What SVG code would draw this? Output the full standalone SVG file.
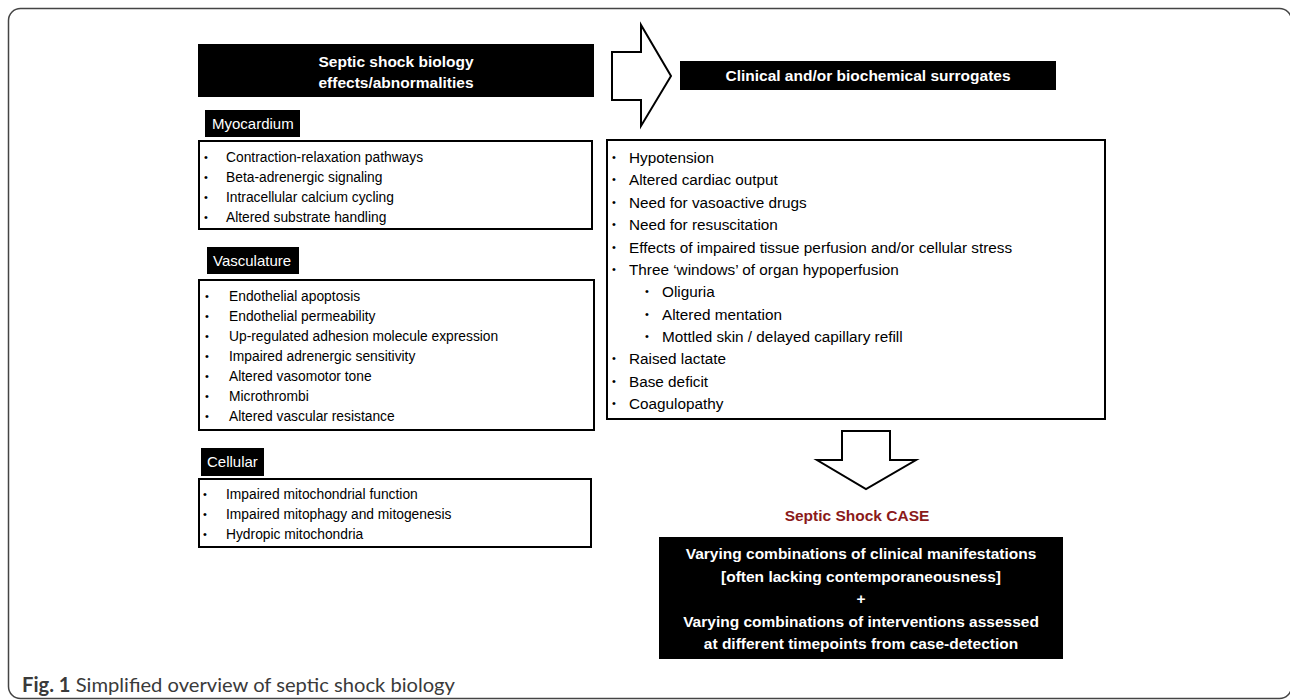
<svg xmlns="http://www.w3.org/2000/svg" width="1290" height="700" viewBox="0 0 1290 700">
<style>
.blk{fill:#000}
.box{fill:#fff;stroke:#000;stroke-width:2}
.arrow{fill:#fff;stroke:#000;stroke-width:2;stroke-linejoin:miter}
.hd{font-family:"Liberation Sans",Arial,sans-serif;font-weight:bold;font-size:15.5px;fill:#fff;text-anchor:middle}
.lbl{font-family:"Liberation Sans",Arial,sans-serif;font-size:15px;fill:#fff}
.li{font-family:"Liberation Sans",Arial,sans-serif;font-size:13.8px;fill:#000}
.ri{font-family:"Liberation Sans",Arial,sans-serif;font-size:15.3px;fill:#000}
.bul{font-family:"Liberation Sans",Arial,sans-serif;font-size:11px;fill:#000}
.case{font-family:"Liberation Sans",Arial,sans-serif;font-weight:bold;font-size:15.5px;fill:#8b1a1a;text-anchor:middle}
.cap{font-family:Lato,"Liberation Sans",sans-serif;font-size:20px;fill:#3a3a3a}
</style>
<rect x="8.5" y="8.5" width="1283" height="690" rx="12" fill="#fff" stroke="#444" stroke-width="1.5"/>

<g id="title">
<rect class="blk" x="198" y="44" width="396" height="53"/>
<text class="hd" x="396" y="67">Septic shock biology</text>
<text class="hd" x="396" y="88">effects/abnormalities</text>
</g>

<g id="surrogates-title">
<rect class="blk" x="680" y="61" width="376" height="29"/>
<text class="hd" x="868" y="81">Clinical and/or biochemical surrogates</text>
</g>

<g id="myocardium">
<rect class="blk" x="205" y="110" width="95" height="27"/>
<text class="lbl" x="212" y="129">Myocardium</text>
<rect class="box" x="199" y="141" width="393" height="88"/>
<g class="bul"><text x="204" y="161">•</text><text x="204" y="181">•</text><text x="204" y="201">•</text><text x="204" y="221">•</text></g>
<text class="li" x="226" y="162">Contraction-relaxation pathways</text>
<text class="li" x="226" y="182">Beta-adrenergic signaling</text>
<text class="li" x="226" y="202">Intracellular calcium cycling</text>
<text class="li" x="226" y="222">Altered substrate handling</text>
</g>

<g id="vasculature">
<rect class="blk" x="207" y="247" width="92" height="27"/>
<text class="lbl" x="213" y="266">Vasculature</text>
<rect class="box" x="199" y="280" width="395" height="150"/>
<g class="bul"><text x="205" y="300">•</text><text x="205" y="320">•</text><text x="205" y="340">•</text><text x="205" y="360">•</text><text x="205" y="380">•</text><text x="205" y="400">•</text><text x="205" y="420">•</text></g>
<text class="li" x="229" y="301">Endothelial apoptosis</text>
<text class="li" x="229" y="321">Endothelial permeability</text>
<text class="li" x="229" y="341">Up-regulated adhesion molecule expression</text>
<text class="li" x="229" y="361">Impaired adrenergic sensitivity</text>
<text class="li" x="229" y="381">Altered vasomotor tone</text>
<text class="li" x="229" y="401">Microthrombi</text>
<text class="li" x="229" y="421">Altered vascular resistance</text>
</g>

<g id="cellular">
<rect class="blk" x="201" y="448" width="63" height="28"/>
<text class="lbl" x="207" y="467">Cellular</text>
<rect class="box" x="199" y="479" width="392" height="68"/>
<g class="bul"><text x="203" y="498">•</text><text x="203" y="518">•</text><text x="203" y="538">•</text></g>
<text class="li" x="226" y="499">Impaired mitochondrial function</text>
<text class="li" x="226" y="519">Impaired mitophagy and mitogenesis</text>
<text class="li" x="226" y="539">Hydropic mitochondria</text>
</g>

<g id="surrogates">
<rect class="box" x="607" y="140" width="498" height="279"/>
<g class="bul"><text x="612" y="161">•</text><text x="612" y="183">•</text><text x="612" y="206">•</text><text x="612" y="228">•</text><text x="612" y="251">•</text><text x="612" y="273">•</text><text x="645" y="295">•</text><text x="645" y="318">•</text><text x="645" y="340">•</text><text x="612" y="362">•</text><text x="612" y="385">•</text><text x="612" y="407">•</text></g>
<text class="ri" x="629" y="162.5">Hypotension</text>
<text class="ri" x="629" y="185">Altered cardiac output</text>
<text class="ri" x="629" y="207.5">Need for vasoactive drugs</text>
<text class="ri" x="629" y="230">Need for resuscitation</text>
<text class="ri" x="629" y="252.5">Effects of impaired tissue perfusion and/or cellular stress</text>
<text class="ri" x="629" y="275">Three ‘windows’ of organ hypoperfusion</text>
<text class="ri" x="662" y="297">Oliguria</text>
<text class="ri" x="662" y="319.5">Altered mentation</text>
<text class="ri" x="662" y="342">Mottled skin / delayed capillary refill</text>
<text class="ri" x="629" y="364">Raised lactate</text>
<text class="ri" x="629" y="386.5">Base deficit</text>
<text class="ri" x="629" y="409">Coagulopathy</text>
</g>

<g id="case">
<text class="case" x="857" y="521">Septic Shock CASE</text>
<rect class="blk" x="659" y="537" width="404" height="122"/>
<text class="hd" x="861" y="559">Varying combinations of clinical manifestations</text>
<text class="hd" x="861" y="582">[often lacking contemporaneousness]</text>
<text class="hd" x="861" y="604">+</text>
<text class="hd" x="861" y="627">Varying combinations of interventions assessed</text>
<text class="hd" x="861" y="649">at different timepoints from case-detection</text>
</g>

<g id="connectors">
<path class="arrow" d="M612,52 L641,52 L641,25 L671,76 L641,126 L641,100 L612,100 Z"/>
<path class="arrow" d="M842,431 L890,431 L890,460 L916,460 L866,489 L817,460 L842,460 Z"/>
</g>

<text class="cap" x="22" y="692" textLength="433" lengthAdjust="spacingAndGlyphs"><tspan font-weight="bold">Fig. 1</tspan> Simplified overview of septic shock biology</text>
</svg>
